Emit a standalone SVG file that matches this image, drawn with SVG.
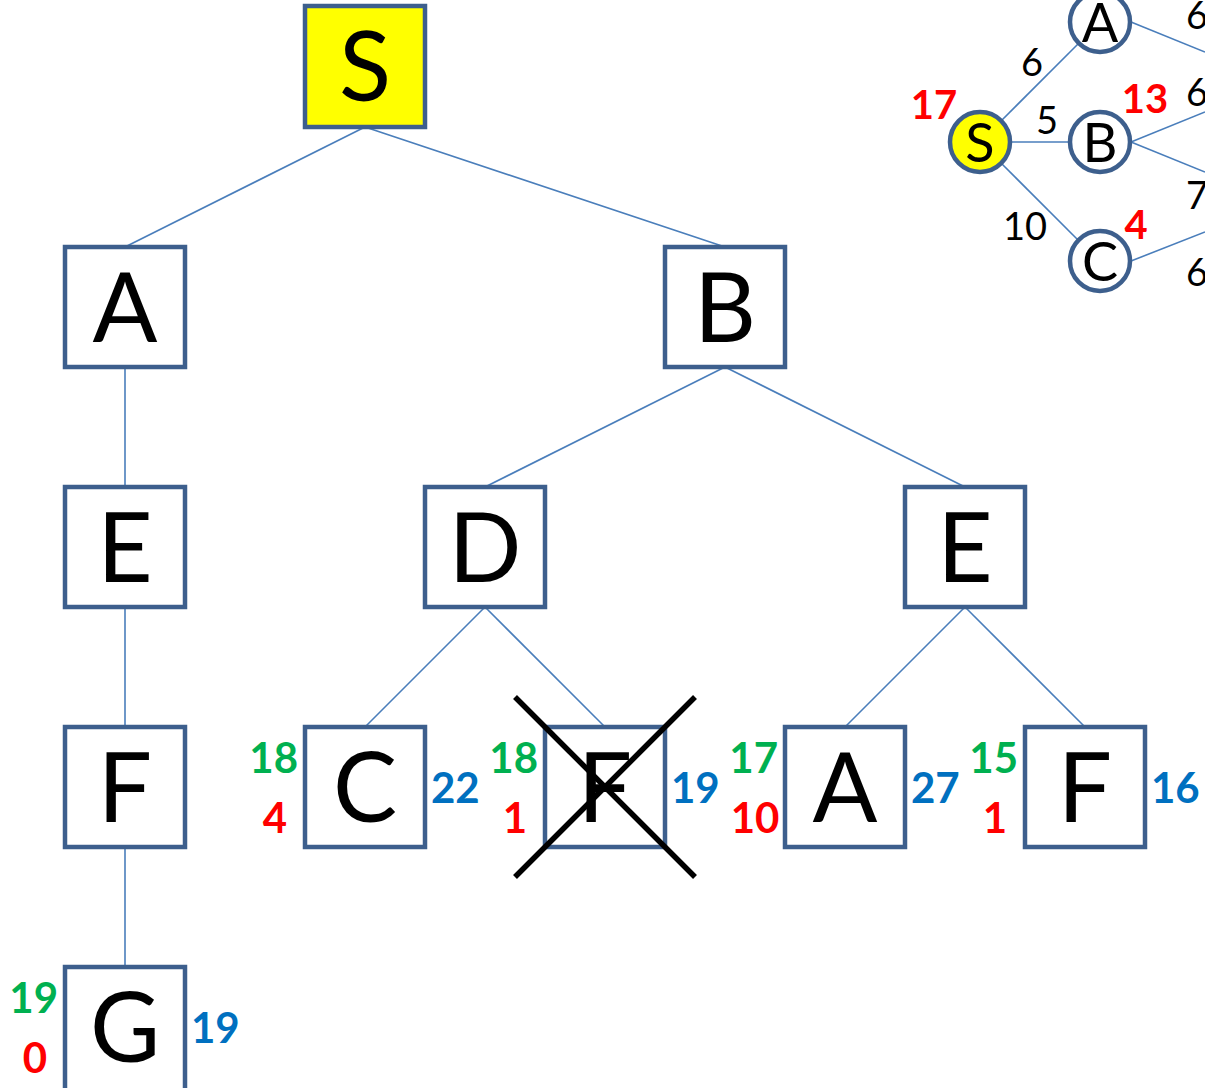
<svg xmlns="http://www.w3.org/2000/svg" width="1205" height="1088" viewBox="0 0 1205 1088">
<style>
.box{fill:#fff;stroke:#3D5F8D;stroke-width:4.5;}
.start{fill:#FFFF00;}
.ln{stroke:#4A7EBB;stroke-width:1.6;fill:none;}
.big{font-family:Lato,"Liberation Sans",sans-serif;font-size:96px;fill:#000;text-anchor:middle;}
.g{font-family:Lato,"Liberation Sans",sans-serif;font-weight:bold;font-size:42px;fill:#00B050;text-anchor:end;}
.r{font-family:Lato,"Liberation Sans",sans-serif;font-weight:bold;font-size:42px;fill:#FF0000;text-anchor:middle;}
.b{font-family:Lato,"Liberation Sans",sans-serif;font-weight:bold;font-size:42px;fill:#0070C0;text-anchor:start;}
.circ{fill:#fff;stroke:#3D5F8D;stroke-width:4.5;}
.cl{font-family:Lato,"Liberation Sans",sans-serif;font-size:54px;fill:#000;text-anchor:middle;}
.w{font-family:Lato,"Liberation Sans",sans-serif;font-size:38px;fill:#000;text-anchor:middle;}
.rl{font-family:Lato,"Liberation Sans",sans-serif;font-weight:bold;font-size:40px;fill:#FF0000;text-anchor:middle;}
.x{stroke:#000;stroke-width:5.5;}
</style>
<g id="connectors">
<line class="ln" x1="365" y1="127" x2="125" y2="247"/>
<line class="ln" x1="365" y1="127" x2="725" y2="247"/>
<line class="ln" x1="125" y1="367" x2="125" y2="487"/>
<line class="ln" x1="725" y1="367" x2="485" y2="487"/>
<line class="ln" x1="725" y1="367" x2="965" y2="487"/>
<line class="ln" x1="125" y1="607" x2="125" y2="727"/>
<line class="ln" x1="485" y1="607" x2="365" y2="727"/>
<line class="ln" x1="485" y1="607" x2="605" y2="727"/>
<line class="ln" x1="965" y1="607" x2="845" y2="727"/>
<line class="ln" x1="965" y1="607" x2="1085" y2="727"/>
<line class="ln" x1="125" y1="847" x2="125" y2="967"/>
</g>
<g id="graph-edges">
<line class="ln" x1="1002" y1="120" x2="1078" y2="44"/>
<line class="ln" x1="1010" y1="142" x2="1070" y2="142"/>
<line class="ln" x1="1002" y1="164" x2="1078" y2="240"/>
<line class="ln" x1="1131" y1="22" x2="1205" y2="52"/>
<line class="ln" x1="1131" y1="142" x2="1205" y2="112"/>
<line class="ln" x1="1131" y1="142" x2="1205" y2="172"/>
<line class="ln" x1="1131" y1="261" x2="1205" y2="232"/>
</g>
<g id="node-S"><rect class="box start" x="305" y="6" width="120" height="121"/><text class="big" x="365" y="101">S</text></g>
<g id="node-A"><rect class="box" x="65" y="247" width="120" height="120"/><text class="big" x="125" y="342">A</text></g>
<g id="node-B"><rect class="box" x="665" y="247" width="120" height="120"/><text class="big" x="725" y="342">B</text></g>
<g id="node-E1"><rect class="box" x="65" y="487" width="120" height="120"/><text class="big" x="125" y="582">E</text></g>
<g id="node-D"><rect class="box" x="425" y="487" width="120" height="120"/><text class="big" x="485" y="582">D</text></g>
<g id="node-E2"><rect class="box" x="905" y="487" width="120" height="120"/><text class="big" x="965" y="582">E</text></g>
<g id="node-F1"><rect class="box" x="65" y="727" width="120" height="120"/><text class="big" x="125" y="822">F</text></g>
<g id="node-C"><rect class="box" x="305" y="727" width="120" height="120"/><text class="big" x="365" y="822">C</text>
<text class="g" x="298" y="773">18</text><text class="r" x="275" y="833">4</text><text class="b" x="431" y="803">22</text></g>
<g id="node-F2"><rect class="box" x="545" y="727" width="120" height="120"/><text class="big" x="605" y="822">F</text>
<text class="g" x="538" y="773">18</text><text class="r" x="515" y="833">1</text><text class="b" x="671" y="803">19</text>
<line class="x" x1="515" y1="697" x2="695" y2="877"/>
<line class="x" x1="695" y1="697" x2="515" y2="877"/></g>
<g id="node-A2"><rect class="box" x="785" y="727" width="120" height="120"/><text class="big" x="845" y="822">A</text>
<text class="g" x="778" y="773">17</text><text class="r" x="755" y="833">10</text><text class="b" x="911" y="803">27</text></g>
<g id="node-F3"><rect class="box" x="1025" y="727" width="120" height="120"/><text class="big" x="1085" y="822">F</text>
<text class="g" x="1018" y="773">15</text><text class="r" x="995" y="833">1</text><text class="b" x="1151" y="803">16</text></g>
<g id="node-G"><rect class="box" x="65" y="967" width="120" height="125"/><text class="big" x="125" y="1062">G</text>
<text class="g" x="58" y="1013">19</text><text class="r" x="35" y="1073">0</text><text class="b" x="191" y="1043">19</text></g>
<g id="gnode-S"><circle class="circ" cx="980" cy="142" r="30" style="fill:#FFFF00"/><text class="cl" x="980" y="162">S</text></g>
<g id="gnode-A"><circle class="circ" cx="1100" cy="22" r="30"/><text class="cl" x="1100" y="42">A</text></g>
<g id="gnode-B"><circle class="circ" cx="1100" cy="142" r="30"/><text class="cl" x="1100" y="162">B</text></g>
<g id="gnode-C"><circle class="circ" cx="1100" cy="261" r="30"/><text class="cl" x="1100" y="281">C</text></g>
<g id="graph-labels">
<text class="w" x="1032" y="76">6</text>
<text class="w" x="1047" y="134">5</text>
<text class="w" x="1025" y="240">10</text>
<text class="w" x="1186" y="29" style="text-anchor:start">6</text>
<text class="w" x="1186" y="106" style="text-anchor:start">6</text>
<text class="w" x="1186" y="209" style="text-anchor:start">7</text>
<text class="w" x="1186" y="286" style="text-anchor:start">6</text>
<text class="rl" x="934" y="119">17</text>
<text class="rl" x="1145" y="113">13</text>
<text class="rl" x="1136" y="239">4</text>
</g>
</svg>
